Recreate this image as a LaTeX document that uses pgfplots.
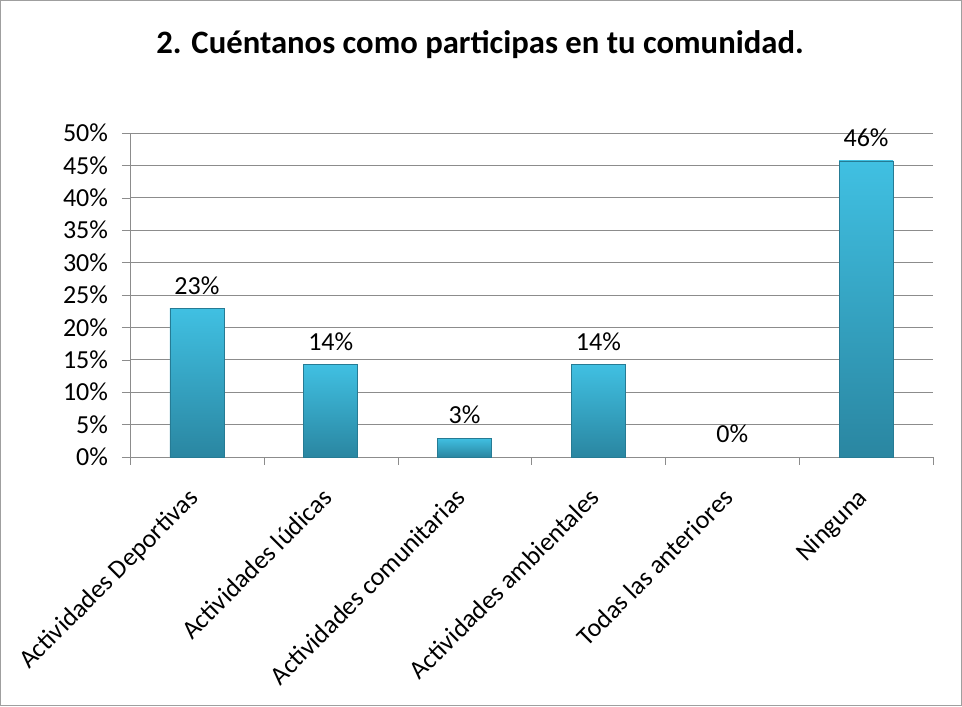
\documentclass[border=0pt]{standalone}
\usepackage{fontspec}
\setmainfont{Carlito}
\usepackage{pgfplots}
\pgfplotsset{compat=1.18}
\definecolor{bartop}{HTML}{40C0E2}
\definecolor{barbot}{HTML}{2A86A1}
\definecolor{baredge}{HTML}{267B94}
\definecolor{gridgray}{HTML}{8C8C8C}
\begin{document}
\begin{tikzpicture}
\useasboundingbox (0,0) rectangle (721.5pt,529.5pt);
\draw[gray!75, line width=1pt] (0.5pt,0.5pt) rectangle (721pt,529pt);
\node[font=\fontsize{24.5}{29}\selectfont\bfseries] at (360pt,495.75pt)
  {2. Cuéntanos como participas en tu comunidad.};
\begin{axis}[
  at={(97.5pt,186.75pt)}, anchor=south west,
  scale only axis,
  width=602.25pt, height=243pt,
  xmin=-0.5, xmax=5.5,
  ymin=0, ymax=50,
  axis lines*=left,
  axis line style={gridgray},
  tick align=outside,
  major tick length=6pt,
  ytick={0,5,...,50},
  yticklabel={\pgfmathprintnumber{\tick}\%},
  yticklabel style={font=\fontsize{19.5}{23}\selectfont, xshift=-7pt},
  ymajorgrids,
  grid style={gridgray, line width=0.6pt},
  ytick style={gridgray},
  xtick={0,...,5},
  xticklabels={Actividades Deportivas, Actividades lúdicas, Actividades comunitarias, Actividades ambientales, Todas las anteriores, Ninguna},
  xtick style={draw=none},
  extra x ticks={-0.5,0.5,...,5.5},
  extra x tick labels={},
  extra x tick style={xtick style={draw=gridgray}, grid=none},
  xticklabel style={rotate=45, anchor=north east, inner sep=2pt, xshift=-14.8pt, yshift=-4pt, font=\fontsize{19.5}{23}\selectfont},
  /pgf/number format/assume math mode=true,
  ybar, bar width=40.5pt, bar shift=0pt,
  nodes near coords={\pgfmathprintnumber[fixed,precision=0]{\pgfplotspointmeta}\%},
  every node near coord/.append style={font=\fontsize{19.5}{23}\selectfont, yshift=7pt},
  clip=false,
]
\addplot[draw=baredge, top color=bartop, bottom color=barbot] coordinates {(0,22.9)};
\addplot[draw=baredge, top color=bartop, bottom color=barbot] coordinates {(1,14.3)};
\addplot[draw=baredge, top color=bartop, bottom color=barbot] coordinates {(2,2.9)};
\addplot[draw=baredge, top color=bartop, bottom color=barbot] coordinates {(3,14.3)};
\addplot[draw=none, fill=none] coordinates {(4,0)};
\addplot[draw=baredge, top color=bartop, bottom color=barbot] coordinates {(5,45.7)};
\end{axis}
\end{tikzpicture}
\end{document}
